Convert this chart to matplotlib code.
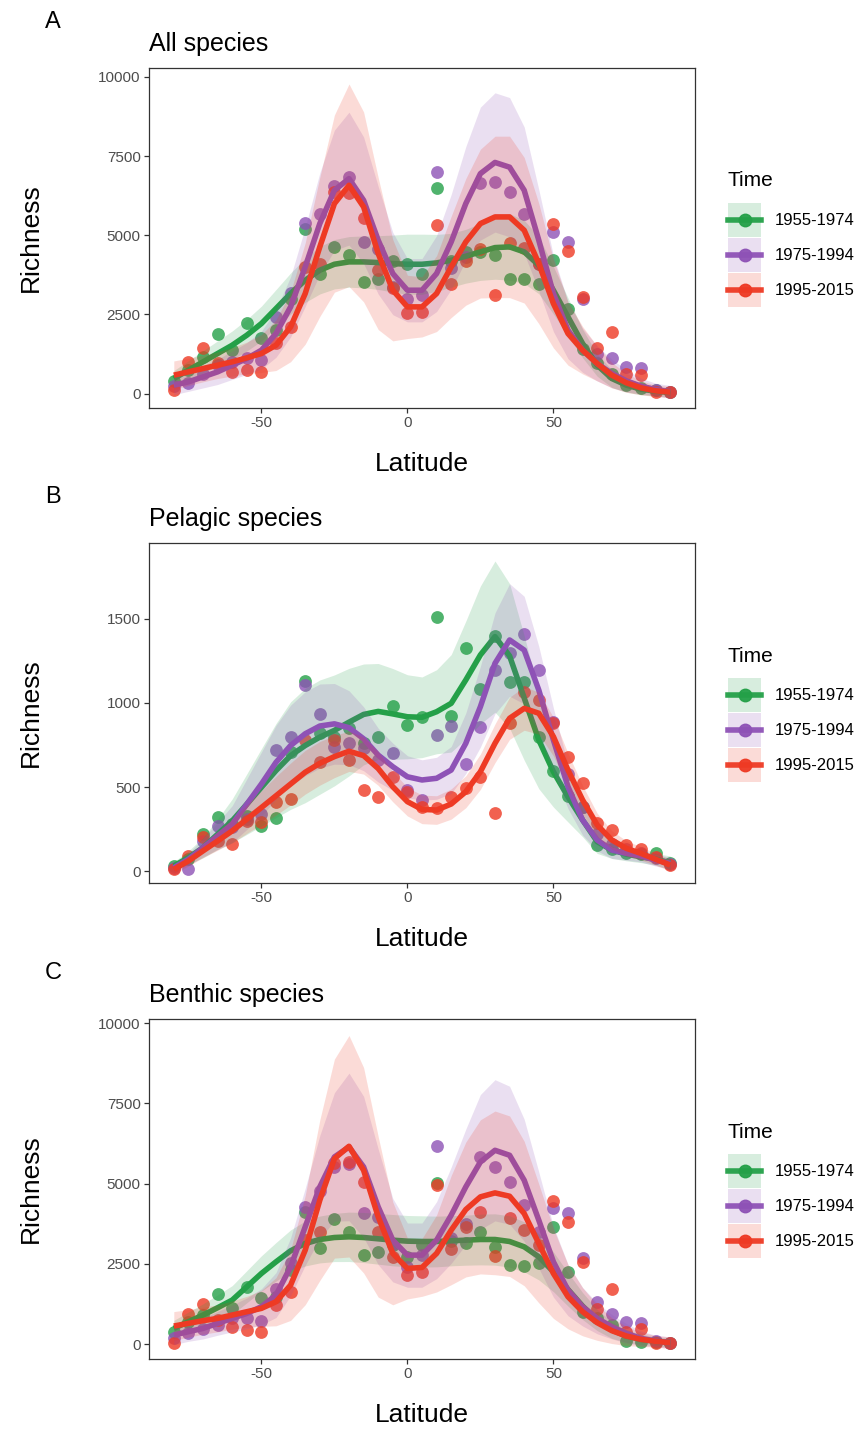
import numpy as np
import matplotlib
matplotlib.use("Agg")
from matplotlib import pyplot as plt
from matplotlib.patches import Patch
from matplotlib.lines import Line2D
from matplotlib.legend_handler import HandlerTuple, HandlerLine2D

plt.rcParams['font.family'] = ['Liberation Sans', 'DejaVu Sans']
plt.rcParams['axes.unicode_minus'] = False

# data
lat = [-80, -75, -70, -65, -60, -55, -50, -45, -40, -35, -30, -25, -20, -15, -10, -5, 0,
       5, 10, 15, 20, 25, 30, 35, 40, 45, 50, 55, 60, 65, 70, 75, 80, 85, 90]
periods = ['1955-1974', '1975-1994', '1995-2015']
colors = ['#24a048', '#8e52b6', '#ee3a24']

# A - all species
a_pts_1955 = [400, 740, 1150, 1870, 1370, 2240, 1740, 2000, 3000, 5210, 3790, 4630, 4370, 3530, 3630, 4200, 4100, 3790,
              6500, 4200, 4470, 4470, 4370, 3630, 3610, 3450, 4230, 2680, 1420, 950, 610, 260, 160, 100, 60]
a_pts_1975 = [250, 340, 630, 900, 1000, 1130, 1070, 2420, 3160, 5390, 5680, 6550, 6840, 4790, 4580, 3370, 3000, 3100,
              7000, 3980, 4300, 6650, 6680, 6370, 5680, 4100, 5100, 4790, 3000, 1260, 1110, 840, 790, 100, 60]
a_pts_1995 = [100, 1000, 1450, 950, 680, 740, 680, 1600, 2100, 4000, 4100, 6370, 6320, 5530, 3890, 3320, 2530, 2560,
              5320, 3450, 4200, 4580, 3100, 4740, 4600, 4080, 5370, 4510, 3050, 1450, 1950, 630, 580, 50, 50]
a_fit_1955 = [474, 737, 1000, 1263, 1526, 1842, 2210, 2684, 3158, 3579, 3895, 4084, 4158, 4158, 4137, 4105, 4084, 4084,
              4126, 4210, 4337, 4474, 4610, 4632, 4474, 4053, 3263, 2421, 1579, 895, 474, 263, 137, 74, 32]
a_fit_1975 = [263, 368, 526, 684, 895, 1105, 1368, 1895, 2737, 4000, 5368, 6421, 6789, 6105, 4842, 3789, 3263, 3263,
              3789, 4789, 6000, 6947, 7300, 7150, 6421, 4842, 3158, 2000, 1368, 947, 632, 400, 232, 126, 53]
a_fit_1995 = [579, 684, 789, 895, 1000, 1126, 1263, 1526, 2105, 3158, 4632, 6000, 6579, 5895, 4421, 3263, 2737, 2737,
              3158, 4000, 4789, 5368, 5579, 5579, 5158, 4105, 2842, 1895, 1368, 947, 579, 337, 179, 84, 42]
a_se_1955 = [250, 300, 350, 400, 450, 500, 550, 600, 650, 700, 750, 780, 800, 820, 850, 900, 950, 950,
             900, 850, 850, 900, 1000, 1050, 1000, 900, 750, 600, 450, 350, 280, 220, 180, 150, 150]
a_se_1975 = [300, 300, 350, 400, 450, 500, 600, 750, 950, 1250, 1600, 1900, 2100, 2000, 1700, 1300, 1000, 1000,
             1200, 1500, 1800, 2100, 2200, 2200, 2000, 1600, 1200, 900, 700, 550, 450, 350, 250, 200, 200]
a_se_1995 = [450, 430, 420, 420, 450, 500, 600, 800, 1100, 1600, 2200, 2800, 3200, 3000, 2400, 1600, 1000, 950,
             1200, 1600, 2000, 2350, 2550, 2550, 2300, 1900, 1400, 1000, 750, 550, 400, 300, 220, 180, 180]

# B - pelagic species
b_pts_1955 = [30, 70, 220, 320, 280, 330, 270, 315, 710, 1130, 820, 800, 850, 760, 800, 980, 870, 915,
              1510, 920, 1330, 1085, 1400, 1125, 1125, 800, 595, 445, 380, 155, 130, 110, 100, 105, 50]
b_pts_1975 = [20, 15, 180, 270, 260, 310, 340, 720, 800, 1105, 935, 740, 760, 730, 660, 704, 480, 423,
              810, 865, 637, 859, 1196, 1300, 1411, 1196, 885, 580, 383, 220, 160, 130, 110, 80, 45]
b_pts_1995 = [10, 90, 200, 180, 160, 300, 290, 410, 430, 780, 650, 780, 660, 480, 440, 560, 470, 383,
              373, 438, 492, 561, 347, 883, 1067, 1018, 880, 680, 522, 284, 244, 155, 129, 85, 36]
b_fit_1955 = [30, 80, 139, 219, 299, 398, 498, 598, 687, 747, 797, 837, 886, 932, 950, 935, 918, 915,
              948, 998, 1137, 1286, 1395, 1280, 1030, 780, 591, 442, 304, 175, 125, 101, 85, 70, 50]
b_fit_1975 = [20, 70, 139, 209, 279, 398, 518, 647, 747, 817, 863, 876, 853, 787, 690, 621, 561, 542,
              552, 601, 760, 978, 1236, 1375, 1315, 1077, 780, 502, 304, 185, 125, 105, 89, 65, 46]
b_fit_1995 = [10, 60, 120, 179, 239, 309, 378, 448, 518, 588, 641, 681, 713, 687, 610, 502, 413, 367,
              363, 399, 472, 591, 760, 909, 968, 939, 800, 601, 423, 274, 185, 135, 105, 70, 36]
b_se_1955 = [25, 40, 60, 90, 130, 180, 230, 280, 320, 340, 340, 330, 320, 300, 285, 270, 250, 240,
             250, 290, 350, 410, 450, 430, 370, 290, 210, 150, 100, 70, 50, 40, 35, 35, 40]
b_se_1975 = [25, 35, 55, 80, 110, 150, 190, 220, 240, 250, 250, 240, 220, 190, 160, 140, 125, 120,
             125, 140, 180, 240, 300, 335, 320, 260, 190, 130, 90, 65, 50, 40, 35, 35, 35]
b_se_1995 = [25, 30, 40, 55, 70, 85, 100, 115, 125, 130, 130, 125, 120, 110, 100, 90, 85, 85,
             85, 90, 95, 105, 115, 125, 130, 125, 115, 100, 85, 70, 55, 45, 40, 35, 35]

# C - benthic species
c_pts_1955 = [380, 700, 900, 1550, 1110, 1780, 1420, 1470, 2300, 4120, 2980, 3880, 3490, 2770, 2870, 3100, 2720, 3100,
              5030, 3200, 3150, 3490, 3010, 2460, 2440, 2510, 3630, 2250, 1010, 800, 590, 100, 70, 70, 30]
c_pts_1975 = [180, 330, 460, 590, 800, 800, 730, 1700, 2510, 4270, 4760, 5520, 5620, 4070, 3960, 3130, 2410, 2770,
              6170, 3290, 3750, 5830, 5520, 5050, 4320, 3500, 4250, 4090, 2670, 1300, 930, 700, 640, 80, 30]
c_pts_1995 = [40, 930, 1240, 750, 540, 440, 380, 1210, 1630, 3240, 3500, 5640, 5670, 5050, 3490, 2700, 2150, 2250,
              4950, 2950, 3650, 4120, 2740, 3910, 3550, 3100, 4460, 3810, 2560, 1100, 1700, 380, 460, 20, 20]
c_fit_1955 = [487, 695, 902, 1130, 1369, 1784, 2198, 2561, 2904, 3132, 3256, 3318, 3339, 3318, 3277, 3235, 3204, 3194,
              3194, 3215, 3235, 3256, 3256, 3194, 3028, 2717, 2250, 1701, 1182, 747, 436, 249, 145, 83, 41]
c_fit_1975 = [280, 384, 487, 643, 798, 954, 1161, 1524, 2406, 3650, 4895, 5828, 6139, 5517, 4272, 3235, 2769, 2769,
              3235, 4013, 4895, 5672, 6035, 5880, 5102, 3858, 2561, 1680, 1161, 798, 539, 332, 176, 93, 41]
c_fit_1995 = [560, 643, 726, 798, 902, 1006, 1110, 1317, 1835, 2924, 4480, 5776, 6160, 5413, 3961, 2821, 2354, 2385,
              2821, 3547, 4189, 4584, 4708, 4604, 4065, 3132, 2198, 1473, 1006, 664, 415, 249, 145, 83, 41]
c_se_1955 = [250, 300, 350, 400, 450, 500, 550, 600, 650, 700, 730, 750, 770, 780, 790, 800, 800, 800,
             790, 780, 780, 790, 800, 800, 780, 720, 620, 520, 420, 330, 260, 200, 160, 140, 140]
c_se_1975 = [300, 300, 330, 370, 420, 480, 560, 700, 900, 1200, 1600, 2000, 2300, 2200, 1800, 1300, 1000, 1000,
             1200, 1500, 1800, 2100, 2200, 2150, 1900, 1500, 1100, 800, 600, 480, 380, 300, 230, 180, 180]
c_se_1995 = [450, 430, 420, 420, 440, 480, 560, 750, 1100, 1700, 2500, 3100, 3450, 3200, 2500, 1600, 950, 900,
             1200, 1700, 2100, 2400, 2550, 2500, 2250, 1850, 1400, 1000, 750, 550, 400, 300, 220, 180, 180]

panels = [
    ('A', 'All species', [a_pts_1955, a_pts_1975, a_pts_1995], [a_fit_1955, a_fit_1975, a_fit_1995],
     [a_se_1955, a_se_1975, a_se_1995], (-458, 10284), [0, 2500, 5000, 7500, 10000], 68),
    ('B', 'Pelagic species', [b_pts_1955, b_pts_1975, b_pts_1995], [b_fit_1955, b_fit_1975, b_fit_1995],
     [b_se_1955, b_se_1975, b_se_1995], (-71, 1952), [0, 500, 1000, 1500], 543),
    ('C', 'Benthic species', [c_pts_1955, c_pts_1975, c_pts_1995], [c_fit_1955, c_fit_1975, c_fit_1995],
     [c_se_1955, c_se_1975, c_se_1995], (-467, 10125), [0, 2500, 5000, 7500, 10000], 1019),
]


# put the legend line in the middle of the key box (ggplot style)
class MidLine(HandlerLine2D):
    def create_artists(self, legend, orig_handle, xdescent, ydescent, width, height, fontsize, trans):
        arts = super().create_artists(legend, orig_handle, xdescent, ydescent, width, height, fontsize, trans)
        for a in arts:
            a.set_ydata(np.full_like(np.asarray(a.get_ydata(), dtype=float), height / 2 - ydescent))
        return arts


W, H = 861, 1432
fig = plt.figure(figsize=(W / 100, H / 100), dpi=100)
x = np.array(lat)

for letter, title, pts, fits, ses, ylim, yticks, top in panels:
    ax = fig.add_axes([149 / W, 1 - (top + 340) / H, 546 / W, 340 / H])
    z = 2
    for p, c in zip(pts, colors):
        ax.scatter(x, p, s=85, color=c, alpha=0.8, lw=0, zorder=z)
        z += 1
    for f, s, c in zip(fits, ses, colors):
        f = np.array(f, dtype=float)
        s = np.array(s, dtype=float)
        ax.fill_between(x, f - s, f + s, color=c, alpha=0.18, lw=0, zorder=z)
        ax.plot(x, f, color=c, lw=4.0, solid_joinstyle='round', solid_capstyle='butt', zorder=z + 1)
        z += 2

    ax.set_xlim(-88.5, 98.5)
    ax.set_ylim(*ylim)
    ax.set_xticks([-50, 0, 50])
    ax.set_yticks(yticks)
    ax.tick_params(length=3.5, width=0.9, color='#333333', labelcolor='#4d4d4d', labelsize=11, pad=2.5)
    for sp in ax.spines.values():
        sp.set_linewidth(0.9)
        sp.set_color('#333333')

    ax.set_xlabel('Latitude', fontsize=19, va='center')
    ax.xaxis.set_label_coords(0.5, -56 / 340)
    ax.set_ylabel('Richness', fontsize=19, va='center')
    ax.yaxis.set_label_coords(-(149 - 31) / 546, 0.5)

    ax.text(0, 1 + 17 / 340, title, transform=ax.transAxes, ha='left', va='baseline', fontsize=18)
    ax.text((45 - 149) / 546, 1 + 40 / 340, letter, transform=ax.transAxes, ha='left', va='baseline',
            fontsize=17)

    # legend: title as text, keys below it
    ax.text(1 + 33 / 546, 1 - 113 / 340, 'Time', transform=ax.transAxes, ha='left', va='center', fontsize=15)
    handles = [(Patch(facecolor=c, alpha=0.18, lw=0),
                Line2D([], [], color=c, lw=4.0, marker='o', ms=9, alpha=0.95)) for c in colors]
    ax.legend(handles, periods,
              handler_map={tuple: HandlerTuple(ndivide=1, pad=0), Line2D: MidLine()},
              loc='upper left', bbox_to_anchor=(1 + 33 / 546, 1 - 135 / 340), frameon=False,
              handlelength=2.0, handleheight=2.76, labelspacing=0.06, handletextpad=0.78,
              fontsize=12, borderpad=0, borderaxespad=0)

fig.savefig('out.png', dpi=100)
